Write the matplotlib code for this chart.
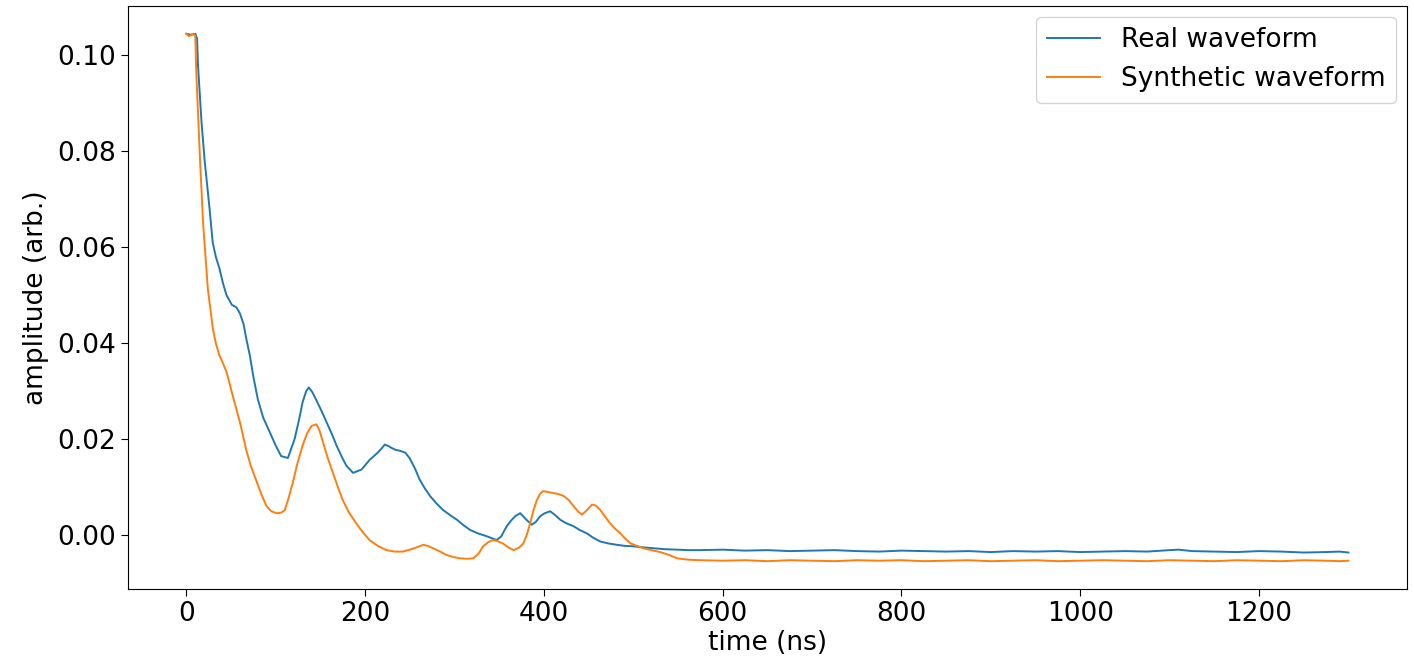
import matplotlib
matplotlib.use("Agg")
import matplotlib.pyplot as plt

# measured waveform (time in ns, amplitude in arb. units)
real_t = [0, 5, 10, 12, 13, 17, 20.5, 26, 29.5, 33, 37, 41, 45, 51, 56, 60, 64, 67, 71,
          75, 80, 86, 93.5, 100, 106, 113.6, 121, 126, 130, 134, 137, 141, 145, 151,
          157, 163, 168, 174, 179, 186.5, 196, 205, 214, 218, 222, 226, 229.6, 234,
          239, 245, 250, 256, 261, 267, 273, 280, 287, 295, 303, 310, 317.5, 326,
          336, 347, 352, 358.5, 363, 368, 373.5, 380.6, 386.5, 391, 396, 401, 407,
          412, 418.5, 425, 433, 440, 448, 455, 463, 472, 482, 490, 500, 510, 522,
          535, 549, 562, 575, 600, 625, 650, 675, 700, 725, 750, 775, 800, 825, 850,
          875, 900, 925, 950, 975, 1000, 1025, 1050, 1075, 1100, 1110, 1125, 1150,
          1175, 1200, 1225, 1250, 1275, 1290, 1300]
real_amp = [0.1045, 0.1043, 0.1045, 0.1035, 0.0980, 0.0860, 0.0780, 0.0680, 0.0610,
            0.0580, 0.0556, 0.0525, 0.0500, 0.0480, 0.0475, 0.0462, 0.0440, 0.0410,
            0.0375, 0.0330, 0.0283, 0.0245, 0.0214, 0.0187, 0.0165, 0.0161, 0.0200,
            0.0240, 0.0277, 0.0300, 0.0308, 0.0298, 0.0283, 0.0260, 0.0235, 0.0210,
            0.0187, 0.0163, 0.0145, 0.0130, 0.0137, 0.0157, 0.0172, 0.0180, 0.0189,
            0.0186, 0.0182, 0.0178, 0.0176, 0.0172, 0.0160, 0.0138, 0.0116, 0.0097,
            0.0081, 0.0066, 0.0053, 0.0042, 0.0032, 0.0021, 0.0011, 0.0004, -0.0002,
            -0.0010, -0.0003, 0.0019, 0.0030, 0.0040, 0.0046, 0.0032, 0.0022, 0.0028,
            0.0040, 0.0046, 0.0050, 0.0043, 0.0032, 0.0025, 0.0019, 0.0011, 0.0004,
            -0.0005, -0.0013, -0.0017, -0.0020, -0.0022, -0.0023, -0.0025, -0.0027,
            -0.0029, -0.0030, -0.0031, -0.0031, -0.0030, -0.0032, -0.0031, -0.0033,
            -0.0032, -0.0031, -0.0033, -0.0034, -0.0032, -0.0033, -0.0034, -0.0033,
            -0.0035, -0.0033, -0.0034, -0.0033, -0.0035, -0.0034, -0.0033, -0.0034,
            -0.0031, -0.0030, -0.0033, -0.0034, -0.0035, -0.0033, -0.0034, -0.0036,
            -0.0035, -0.0034, -0.0036]

# simulated waveform
synth_t = [0, 3, 8, 10, 11, 15, 18.6, 24, 29.7, 33, 37, 41, 45, 52, 60, 67, 72, 78, 84,
           89.6, 95, 101, 106, 110, 114, 119, 124, 130, 135, 140, 145.6, 149, 153,
           158, 164, 170, 175, 182, 190, 197, 205, 214, 224, 233, 242, 250, 258, 265,
           270, 276, 284, 291, 298, 306, 314, 321, 327, 332, 338, 343, 348, 354, 360,
           366, 372, 377, 381, 384.6, 388, 392, 396, 399, 405, 410.5, 416, 422, 428,
           433, 438, 442.6, 448, 453.8, 458, 463, 468, 474, 480, 485.5, 491, 497,
           504, 511, 520, 530, 540, 549, 562, 575, 600, 625, 650, 675, 700, 725,
           750, 775, 800, 825, 850, 875, 900, 925, 950, 975, 1000, 1025, 1050, 1075,
           1100, 1125, 1150, 1175, 1200, 1225, 1250, 1275, 1290, 1300]
synth_amp = [0.1045, 0.1040, 0.1045, 0.1040, 0.0970, 0.0795, 0.0654, 0.0514, 0.0430,
             0.0400, 0.0375, 0.0358, 0.0340, 0.0290, 0.0235, 0.0178, 0.0145, 0.0115,
             0.0085, 0.0061, 0.0050, 0.0046, 0.0047, 0.0052, 0.0075, 0.0109, 0.0148,
             0.0187, 0.0212, 0.0228, 0.0231, 0.0218, 0.0193, 0.0162, 0.0130, 0.0098,
             0.0073, 0.0047, 0.0025, 0.0007, -0.0010, -0.0022, -0.0031, -0.0034,
             -0.0034, -0.0030, -0.0025, -0.0020, -0.0022, -0.0027, -0.0034, -0.0041,
             -0.0045, -0.0048, -0.0049, -0.0048, -0.0038, -0.0023, -0.0014, -0.0010,
             -0.0012, -0.0017, -0.0025, -0.0031, -0.0026, -0.0017, 0.0002, 0.0025,
             0.0050, 0.0073, 0.0087, 0.0092, 0.0090, 0.0088, 0.0086, 0.0082, 0.0073,
             0.0061, 0.0050, 0.0043, 0.0052, 0.0064, 0.0062, 0.0053, 0.0040, 0.0025,
             0.0013, 0.0004, -0.0007, -0.0017, -0.0022, -0.0027, -0.0031, -0.0035,
             -0.0041, -0.0048, -0.0051, -0.0052, -0.0053, -0.0052, -0.0054, -0.0052,
             -0.0053, -0.0054, -0.0052, -0.0053, -0.0052, -0.0054, -0.0053, -0.0052,
             -0.0054, -0.0053, -0.0052, -0.0054, -0.0053, -0.0052, -0.0053, -0.0054,
             -0.0052, -0.0053, -0.0054, -0.0052, -0.0053, -0.0054, -0.0052, -0.0053,
             -0.0054, -0.0053]

fig = plt.figure(figsize=(14.14, 6.63), dpi=100)
ax = fig.add_axes([0.0907, 0.1116, 0.904, 0.8794])

ax.plot(real_t, real_amp, color="#1f77b4", lw=1.4, label="Real waveform")
ax.plot(synth_t, synth_amp, color="#ff7f0e", lw=1.4, label="Synthetic waveform")

ax.set_xlim(-65, 1365)
ax.set_ylim(-0.0112, 0.1103)
ax.set_xticks([0, 200, 400, 600, 800, 1000, 1200])
ax.set_yticks([0.0, 0.02, 0.04, 0.06, 0.08, 0.10])
ax.set_yticklabels(["0.00", "0.02", "0.04", "0.06", "0.08", "0.10"])
ax.tick_params(labelsize=19, length=5)
ax.set_xlabel("time (ns)", fontsize=19, labelpad=2)
ax.set_ylabel("amplitude (arb.)", fontsize=19, labelpad=6)
ax.legend(loc="upper right", fontsize=19, borderaxespad=0.4)

fig.savefig("out.png", dpi=100)
